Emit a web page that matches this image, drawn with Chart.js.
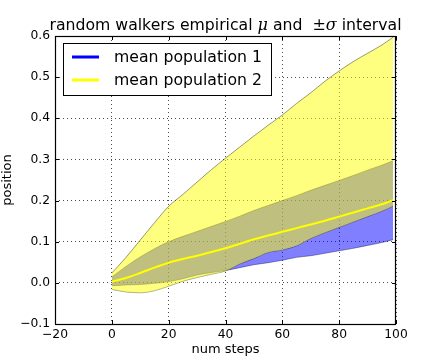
<!DOCTYPE html>
<html><head><meta charset="utf-8">
<script src="https://cdn.jsdelivr.net/npm/chart.js@4/dist/chart.umd.min.js"></script>
<style>html,body{margin:0;padding:0;background:#fff}#wrap{width:440px;height:360px}</style>
</head><body><div id="wrap"><canvas id="c" width="440" height="360"></canvas></div>
<script>
// ---- data ----
const steps      = [0, 5, 10, 15, 20, 25, 30, 35, 40, 45, 50, 55, 60, 65, 70, 75, 80, 85, 90, 95, 99];
const meanLine   = [0.003, 0.012, 0.024, 0.037, 0.049, 0.058, 0.066, 0.075, 0.084, 0.095, 0.106, 0.115, 0.124, 0.133, 0.142, 0.151, 0.161, 0.171, 0.181, 0.191, 0.201];
const pop2Upper  = [0.024, 0.062, 0.104, 0.146, 0.186, 0.215, 0.245, 0.275, 0.303, 0.330, 0.357, 0.383, 0.408, 0.436, 0.462, 0.490, 0.515, 0.538, 0.558, 0.578, 0.597];
const pop2Lower  = [-0.016, -0.022, -0.024, -0.019, -0.008, 0.004, 0.013, 0.021, 0.029, 0.046, 0.059, 0.074, 0.080, 0.090, 0.108, 0.122, 0.135, 0.148, 0.161, 0.174, 0.187];
const pop1Upper  = [0.014, 0.040, 0.063, 0.083, 0.100, 0.113, 0.125, 0.137, 0.149, 0.162, 0.176, 0.188, 0.200, 0.212, 0.225, 0.237, 0.249, 0.261, 0.274, 0.286, 0.297];
const pop1Lower  = [-0.007, -0.005, -0.004, -0.001, 0.003, 0.010, 0.019, 0.025, 0.030, 0.037, 0.044, 0.049, 0.055, 0.062, 0.066, 0.072, 0.078, 0.084, 0.091, 0.098, 0.105];
const xTicks     = [-20, 0, 20, 40, 60, 80, 100];
const yTicks     = [-0.1, 0.0, 0.1, 0.2, 0.3, 0.4, 0.5, 0.6];
const seriesLabels = ['mean population 1', 'mean population 2'];
const seriesColors = ['#0000ff', '#ffff00'];
const titleParts = [
  {t: 'random walkers empirical ', f: 'sans'},
  {t: '\u03bc', f: 'math'},
  {t: ' and  ', f: 'sans'},
  {t: '\u00b1', f: 'mathup'},
  {t: '\u03c3', f: 'math'},
  {t: ' interval', f: 'sans'}
];
const xLabel = 'num steps';
const yLabel = 'position';

const pts = arr => steps.map((s, i) => ({x: s, y: arr[i]}));
const fmtMinus = s => s.replace('-', '\u2212');

const titlePlugin = {
  id: 'mplTitle',
  afterDraw(chart) {
    const ctx = chart.ctx;
    const fonts = {
      sans: '15.7px "DejaVu Sans"',
      math: 'italic 16px "DejaVu Serif"',
      mathup: '16px "DejaVu Serif"'
    };
    ctx.save();
    let total = 0;
    titleParts.forEach(p => { ctx.font = fonts[p.f]; p.w = ctx.measureText(p.t).width; total += p.w; });
    const ca = chart.chartArea;
    let x = (ca.left + ca.right) / 2 - total / 2;
    ctx.fillStyle = '#000';
    ctx.textBaseline = 'alphabetic';
    ctx.textAlign = 'left';
    titleParts.forEach(p => { ctx.font = fonts[p.f]; ctx.fillText(p.t, x, 30); x += p.w; });
    ctx.restore();
  }
};

const framePlugin = {
  id: 'mplFrame',
  afterDraw(chart) {
    const ctx = chart.ctx, ca = chart.chartArea;
    const xs = chart.scales.x, ys = chart.scales.y;
    ctx.save();
    ctx.strokeStyle = '#000';
    ctx.lineWidth = 1;
    ctx.beginPath();
    xTicks.forEach(v => {
      const px = Math.round(xs.getPixelForValue(v)) + 0.5;
      ctx.moveTo(px, ca.bottom); ctx.lineTo(px, ca.bottom - 4);
      ctx.moveTo(px, ca.top); ctx.lineTo(px, ca.top + 4);
    });
    yTicks.forEach(v => {
      const py = Math.round(ys.getPixelForValue(v)) + 0.5;
      ctx.moveTo(ca.left, py); ctx.lineTo(ca.left + 4, py);
      ctx.moveTo(ca.right, py); ctx.lineTo(ca.right - 4, py);
    });
    ctx.stroke();
    ctx.lineWidth = 1.2;
    ctx.strokeRect(ca.left + 0.5, ca.top + 0.5, ca.right - ca.left - 1, ca.bottom - ca.top);
    // legend
    const bx = 63.5, by = 43.5, bw = 208, bh = 52;
    ctx.fillStyle = '#fff';
    ctx.fillRect(bx, by, bw, bh);
    ctx.lineWidth = 1;
    ctx.strokeStyle = '#000';
    ctx.strokeRect(bx, by, bw, bh);
    ctx.font = '15.7px "DejaVu Sans"';
    ctx.textBaseline = 'middle';
    ctx.fillStyle = '#000';
    seriesLabels.forEach((lab, i) => {
      const yy = 57 + i * 23;
      ctx.strokeStyle = seriesColors[i];
      ctx.lineWidth = 3;
      ctx.beginPath(); ctx.moveTo(72, yy); ctx.lineTo(99, yy); ctx.stroke();
      ctx.fillText(lab, 114, yy + 1);
    });
    ctx.restore();
  }
};

const edge = 'rgba(0,0,0,0.5)';
const lineOpts = {pointRadius: 0, cubicInterpolationMode: 'monotone'};
new Chart(document.getElementById('c'), {
  type: 'line',
  data: {
    datasets: [
      Object.assign({label: seriesLabels[1], data: pts(meanLine), borderColor: seriesColors[1], borderWidth: 2, fill: false}, lineOpts),
      Object.assign({label: 'pop2 +sigma', data: pts(pop2Upper), borderColor: edge, borderWidth: 0.8, fill: '+1', backgroundColor: 'rgba(255,255,0,0.5)'}, lineOpts),
      Object.assign({label: 'pop2 -sigma', data: pts(pop2Lower), borderColor: edge, borderWidth: 0.8, fill: false}, lineOpts),
      Object.assign({label: 'pop1 +sigma', data: pts(pop1Upper), borderColor: edge, borderWidth: 0.8, fill: '+1', backgroundColor: 'rgba(0,0,255,0.5)'}, lineOpts),
      Object.assign({label: 'pop1 -sigma', data: pts(pop1Lower), borderColor: edge, borderWidth: 0.8, fill: false}, lineOpts),
      {label: seriesLabels[0], data: [], borderColor: seriesColors[0], borderWidth: 2, pointRadius: 0, fill: false}
    ]
  },
  options: {
    responsive: false,
    animation: false,
    devicePixelRatio: 1,
    layout: {padding: {left: 0, right: 44, top: 36, bottom: 0}},
    plugins: {legend: {display: false}, title: {display: false}, tooltip: {enabled: false}},
    scales: {
      x: {
        type: 'linear', min: -20, max: 100, z: 1,
        afterBuildTicks: s => { s.ticks = xTicks.map(v => ({value: v})); },
        afterFit: s => { s.height = 36; },
        ticks: {callback: v => fmtMinus(String(v)), color: '#000', font: {family: 'DejaVu Sans', size: 12.3}, padding: 3, maxRotation: 0, autoSkip: false},
        grid: {color: 'rgba(0,0,0,0.7)', lineWidth: 1, drawTicks: false},
        border: {display: false, dash: [1, 3]},
        title: {display: true, text: xLabel, color: '#000', font: {family: 'DejaVu Sans', size: 13}, padding: {top: 0, bottom: 3}}
      },
      y: {
        type: 'linear', min: -0.1, max: 0.6, z: 1,
        afterBuildTicks: s => { s.ticks = yTicks.map(v => ({value: v})); },
        afterFit: s => { s.width = 55; },
        ticks: {callback: v => fmtMinus(Number(v).toFixed(1)), color: '#000', font: {family: 'DejaVu Sans', size: 12.3}, padding: 5, autoSkip: false},
        grid: {color: 'rgba(0,0,0,0.7)', lineWidth: 1, drawTicks: false},
        border: {display: false, dash: [1, 3]},
        title: {display: true, text: yLabel, color: '#000', font: {family: 'DejaVu Sans', size: 13}, padding: {top: 0, bottom: 0}}
      }
    }
  },
  plugins: [titlePlugin, framePlugin]
});
</script>
</body></html>
